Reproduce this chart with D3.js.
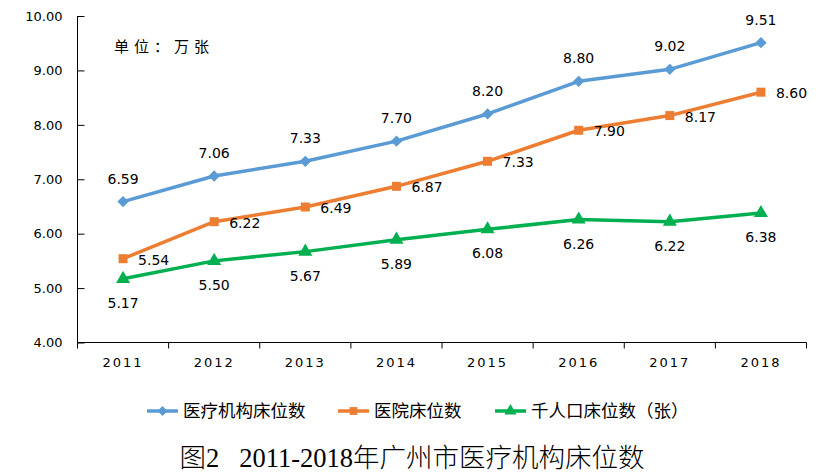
<!DOCTYPE html>
<html><head><meta charset="utf-8">
<script src="https://cdn.jsdelivr.net/npm/d3@7"></script>
<style>body{margin:0;background:#fff}svg{display:block}</style>
</head><body>
<svg id="c" width="831" height="473"></svg>
<script>
const years = ["2011","2012","2013","2014","2015","2016","2017","2018"];
const institutionBeds = [6.59,7.06,7.33,7.70,8.20,8.80,9.02,9.51];
const hospitalBeds = [5.54,6.22,6.49,6.87,7.33,7.90,8.17,8.60];
const bedsPerThousand = [5.17,5.50,5.67,5.89,6.08,6.26,6.22,6.38];
const seriesNames = ["医疗机构床位数","医院床位数","千人口床位数（张）"];
const yTicks = [4,5,6,7,8,9,10];
const unitText = "单位：万张";
const titleText = "图2\u00a0\u00a0\u00a02011-2018年广州市医疗机构床位数";

(function(){
const svg = d3.select("#c");
const pL = 77.5, pR = 806.5, pT = 16, pB = 342.5;
const x = d3.scaleBand().domain(years).range([pL, pR]);
const y = d3.scaleLinear().domain([4,10]).range([pB, pT]);
const cx = d => x(d) + x.bandwidth()/2;
const numFont = "'DejaVu Sans', Verdana, sans-serif";
const cjkFont = "'Noto Sans CJK SC', sans-serif";

// Y axis
const ya = svg.append("g").attr("transform",`translate(${pL},0)`)
  .call(d3.axisLeft(y).tickValues(yTicks).tickSize(-7).tickPadding(15).tickFormat(d3.format(".2f")));
ya.select(".domain").attr("d",`M0,${pB+6}V${pT}`).attr("stroke","#000");
ya.selectAll(".tick line").attr("stroke","#000");
ya.selectAll("text").attr("font-family",numFont).attr("font-size",13).attr("fill","#000");

// X axis
const xa = svg.append("g").attr("transform",`translate(0,${pB})`)
  .call(d3.axisBottom(x).tickSize(0).tickPadding(15));
xa.select(".domain").attr("stroke","#000").attr("d",`M${pL},0H${pR}`);
xa.selectAll("text").attr("font-family",numFont).attr("font-size",13).attr("fill","#000").attr("letter-spacing","2px");
xa.selectAll(".xb").data(years).enter().append("line")
  .attr("x1",d=>x(d)+x.bandwidth()).attr("x2",d=>x(d)+x.bandwidth())
  .attr("y1",0).attr("y2",6).attr("stroke","#000");

// unit text
svg.append("text").attr("x",114).attr("y",52).attr("font-family",cjkFont).attr("font-size",15)
  .attr("letter-spacing","5px").attr("fill","#000").text(unitText);

const series = [
  {name:seriesNames[0], vals:institutionBeds, color:"#5B9BD5", sym:d3.symbolSquare, size:64, rot:45, lab:"above"},
  {name:seriesNames[1], vals:hospitalBeds, color:"#ED7D31", sym:d3.symbolSquare, size:81, rot:0, lab:"right"},
  {name:seriesNames[2], vals:bedsPerThousand, color:"#00B050", sym:d3.symbolTriangle, size:85, rot:0, lab:"below"}
];
const line = d3.line().x((d,i)=>cx(years[i])).y(d=>y(d));
series.forEach(s=>{
  svg.append("path").datum(s.vals).attr("d",line).attr("fill","none")
    .attr("stroke",s.color).attr("stroke-width",3.5).attr("stroke-linejoin","round");
  svg.selectAll(null).data(s.vals).enter().append("path")
    .attr("d",d3.symbol().type(s.sym).size(s.size))
    .attr("transform",(d,i)=>`translate(${cx(years[i])},${y(d)}) rotate(${s.rot})`)
    .attr("fill",s.color);
  svg.selectAll(null).data(s.vals).enter().append("text")
    .attr("x",(d,i)=> s.lab==="right" ? cx(years[i])+15 : cx(years[i]))
    .attr("y",d=> s.lab==="above" ? y(d)-18 : s.lab==="below" ? y(d)+29 : y(d)+6)
    .attr("text-anchor", s.lab==="right" ? "start" : "middle")
    .attr("font-family",numFont).attr("font-size",14).attr("fill","#000")
    .text(d=>d3.format(".2f")(d));
});

// legend
const legX = [147, 338, 495];
series.forEach((s,i)=>{
  const g = svg.append("g").attr("transform",`translate(${legX[i]},411)`);
  g.append("line").attr("x1",0).attr("x2",31).attr("stroke",s.color).attr("stroke-width",3.5);
  g.append("path").attr("d",d3.symbol().type(s.sym).size(s.size*0.75))
    .attr("transform",`translate(15.5,0) rotate(${s.rot})`).attr("fill",s.color);
  g.append("text").attr("x",36).attr("y",6).attr("font-family",cjkFont).attr("font-size",17.5)
    .attr("fill","#000").text(s.name);
});

// title
svg.append("text").attr("x",412).attr("y",467).attr("text-anchor","middle")
  .attr("font-family","'Liberation Serif', 'Noto Sans CJK SC', serif").attr("font-size",26.5)
  .attr("font-weight",300).attr("fill","#000").text(titleText);
})();
</script>
</body></html>
